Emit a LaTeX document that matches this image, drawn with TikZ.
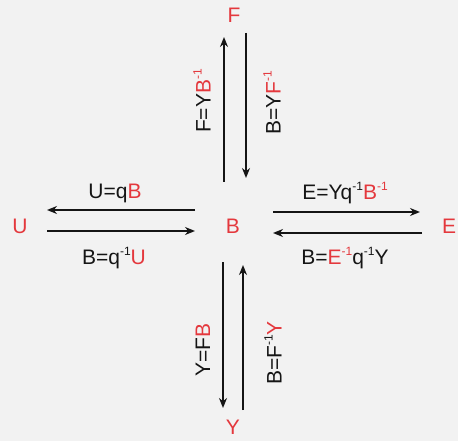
\documentclass[tikz,border=0pt]{standalone}
\usepackage{fontspec}
\setmainfont{Liberation Sans}
\usetikzlibrary{arrows.meta,calc}
\definecolor{rd}{HTML}{E4383D}
\definecolor{paper}{HTML}{F2F2F2}
\definecolor{ink}{HTML}{151515}
\newcommand\myexp[1]{\raisebox{0.8ex}{\fontsize{12}{12}\selectfont #1}}
\newcommand\R[1]{\textcolor{rd}{#1}}
\begin{document}
\begin{tikzpicture}[x=1pt,y=-1pt,
  var/.style={text=rd, font=\fontsize{21}{22}\selectfont, inner sep=0pt},
  lab/.style={text=ink, font=\fontsize{21}{22}\selectfont, inner sep=0pt},
  arr/.style={draw=ink, line width=1.7pt, -{Stealth[length=10pt,width=8pt]}}]
\fill[paper] (0,0) rectangle (458,441);
\useasboundingbox (0,0) rectangle (458,441);
% variables
\node[var] (B) at (233,226) {B};
\node[var] (F) at (234,15) {F};
\node[var] (Y) at (233,427) {Y};
\node[var] (U) at (20,226) {U};
\node[var] (E) at (449,226) {E};
% upper pair
\draw[arr] ($(B)+(-9,-44)$) -- ($(F)+(-10,22)$);
\draw[arr] ($(F)+(12,18)$) -- ($(B)+(13,-48)$);
% lower pair
\draw[arr] ($(B)+(-10,36)$) -- ($(Y)+(-10,-19)$);
\draw[arr] ($(Y)+(10,-17)$) -- ($(B)+(10,39)$);
% left pair
\draw[arr] ($(B)+(-38,-16)$) -- ($(U)+(27,-16)$);
\draw[arr] ($(U)+(27,5)$) -- ($(B)+(-38,5)$);
% right pair
\draw[arr] ($(B)+(40,-14)$) -- ($(E)+(-29,-14)$);
\draw[arr] ($(E)+(-27,7)$) -- ($(B)+(40,7)$);
% labels
\node[lab, rotate=90] (lFB) at (202,101) {F=Y\R{B\myexp{-1}}};
\node[lab, rotate=90] (lBF) at (272,103) {B=Y\R{F\myexp{-1}}};
\node[lab, rotate=90] (lYF) at (203,350) {Y=F\R{B}};
\node[lab, rotate=90] (lBY) at (273,353) {B=F\myexp{-1}\R{Y}};
\node[lab] (lUq) at (115,193) {U=q\R{B}};
\node[lab] (lBq) at (114,258) {B=q\myexp{-1}\R{U}};
\node[lab] (lEY) at (345,193) {E=Yq\myexp{-1}\R{B\myexp{-1}}};
\node[lab] (lBE) at (345,258) {B=\R{E\myexp{-1}}q\myexp{-1}Y};
\end{tikzpicture}
\end{document}
